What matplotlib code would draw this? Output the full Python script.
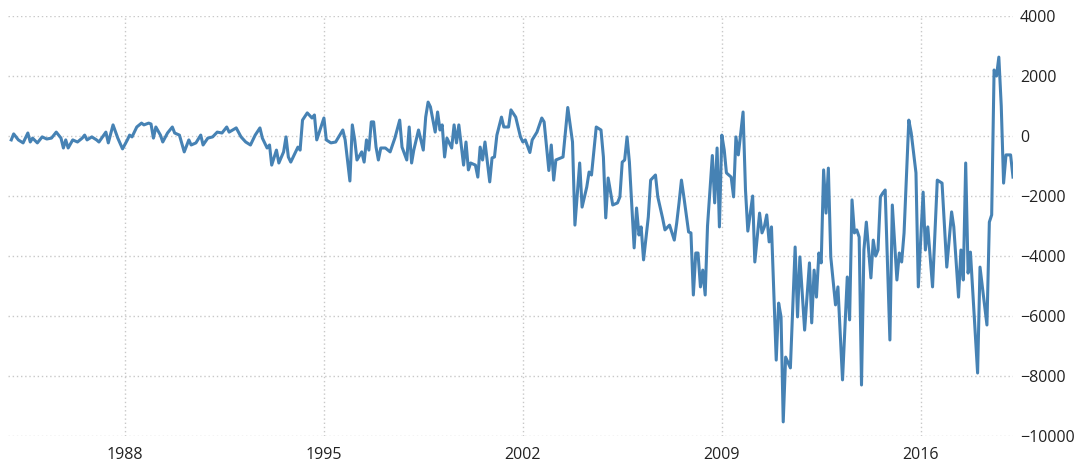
import matplotlib
matplotlib.use('Agg')
import matplotlib.pyplot as plt
import matplotlib.dates as mdates
import pandas as pd

months = [
    '1984-01', '1984-02', '1984-04', '1984-06', '1984-08', '1984-09', '1984-10', '1984-12',
    '1985-02', '1985-04', '1985-06', '1985-08', '1985-10', '1985-11', '1985-12',
    '1986-01', '1986-03', '1986-05', '1986-07', '1986-08', '1986-09', '1986-11',
    '1987-01', '1987-02', '1987-05', '1987-06', '1987-08', '1987-10', '1987-12',
    '1988-02', '1988-03', '1988-04', '1988-06', '1988-08', '1988-09', '1988-11', '1988-12',
    '1989-01', '1989-02', '1989-04', '1989-05', '1989-07', '1989-09', '1989-10', '1989-12',
    '1990-02', '1990-04', '1990-05', '1990-07', '1990-09', '1990-10', '1990-12',
    '1991-02', '1991-04', '1991-06', '1991-08', '1991-09', '1991-12',
    '1992-02', '1992-04', '1992-06', '1992-08', '1992-10', '1992-11',
    '1993-01', '1993-02', '1993-03', '1993-05', '1993-06', '1993-08', '1993-09', '1993-10', '1993-11',
    '1994-02', '1994-03', '1994-04', '1994-06', '1994-08', '1994-09', '1994-10',
    '1995-01', '1995-02', '1995-04', '1995-06', '1995-09', '1995-10', '1995-12',
    '1996-01', '1996-02', '1996-03', '1996-05', '1996-06', '1996-07', '1996-08', '1996-09',
    '1996-10', '1996-11', '1996-12',
    '1997-01', '1997-03', '1997-05', '1997-07', '1997-09', '1997-10', '1997-12',
    '1998-01', '1998-02', '1998-03', '1998-05', '1998-07', '1998-08', '1998-09', '1998-10', '1998-12',
    '1999-01', '1999-02', '1999-03', '1999-04', '1999-05', '1999-07', '1999-08', '1999-09',
    '1999-10', '1999-12',
    '2000-01', '2000-02', '2000-03', '2000-05', '2000-06', '2000-07', '2000-08', '2000-09',
    '2000-11', '2000-12',
    '2001-01', '2001-02', '2001-04', '2001-05', '2001-07', '2001-08', '2001-10', '2001-12',
    '2002-01', '2002-02', '2002-04', '2002-05', '2002-07', '2002-09', '2002-10', '2002-12',
    '2003-01', '2003-02', '2003-03', '2003-06', '2003-08', '2003-10', '2003-11',
    '2004-01', '2004-02', '2004-04', '2004-05', '2004-06', '2004-08', '2004-10', '2004-11', '2004-12',
    '2005-01', '2005-03', '2005-05', '2005-06', '2005-07', '2005-08', '2005-09', '2005-10', '2005-12',
    '2006-01', '2006-02', '2006-03', '2006-04', '2006-06', '2006-07', '2006-09', '2006-10', '2006-12',
    '2007-01', '2007-03', '2007-05', '2007-06', '2007-07', '2007-08', '2007-09', '2007-11', '2007-12',
    '2008-01', '2008-02', '2008-03', '2008-04', '2008-05', '2008-06', '2008-07', '2008-09',
    '2008-10', '2008-11', '2008-12',
    '2009-01', '2009-02', '2009-03', '2009-05', '2009-06', '2009-07', '2009-08', '2009-10',
    '2009-11', '2009-12',
    '2010-02', '2010-03', '2010-05', '2010-06', '2010-07', '2010-08', '2010-09', '2010-10', '2010-12',
    '2011-01', '2011-02', '2011-03', '2011-04', '2011-06', '2011-08', '2011-09', '2011-10', '2011-12',
    '2012-02', '2012-03', '2012-04', '2012-05', '2012-06', '2012-07', '2012-08', '2012-09',
    '2012-10', '2012-11',
    '2013-01', '2013-02', '2013-04', '2013-06', '2013-07', '2013-08', '2013-09', '2013-10',
    '2013-11', '2013-12',
    '2014-01', '2014-02', '2014-04', '2014-05', '2014-06', '2014-07', '2014-08', '2014-09',
    '2014-10', '2014-12',
    '2015-01', '2015-03', '2015-04', '2015-05', '2015-06', '2015-08', '2015-09', '2015-11', '2015-12',
    '2016-02', '2016-03', '2016-04', '2016-06', '2016-08', '2016-10', '2016-12',
    '2017-02', '2017-03', '2017-05', '2017-06', '2017-07', '2017-08', '2017-09', '2017-10',
    '2018-01', '2018-02', '2018-05', '2018-06', '2018-07', '2018-08', '2018-09', '2018-10',
    '2018-11', '2018-12',
    '2019-01', '2019-03', '2019-04',
]

balance = [
    -130, 70, -130, -230, 100, -200, -70, -230,
    -30, -100, -70, 130, -70, -400, -130,
    -400, -130, -200, -70, 30, -130, -30,
    -130, -200, 130, -230, 370, -70, -430,
    -130, 30, -30, 300, 430, 370, 430, 400,
    -70, 300, 30, -200, 100, 300, 100, 30,
    -530, -130, -300, -230, 30, -300, -70,
    -30, 130, 100, 300, 130, 270,
    -30, -200, -300, 30, 270, -70,
    -400, -300, -970, -470, -900, -530, -30, -700, -870,
    -370, -470, 530, 770, 600, 700, -130,
    600, -130, -230, -200, 200, -130, -1500,
    370, -130, -800, -530, -870, -130, -470, 470,
    470, -370, -800,
    -400, -400, -530, -70, 530, -370, -800,
    300, -900, -470, 200, -470, 630, 1130, 970, 130,
    800, 200, 370, -700, -70, -400, 370, -230,
    370, -970,
    -200, -1130, -900, -970, -1370, -370, -800, -200,
    -1530, -730,
    -700, 30, 630, 300, 300, 870, 630, -30,
    -200, -130, -550, -130, 130, 600, 470, -1150,
    -300, -1470, -800, -700, 950, -200, -2970,
    -900, -2370, -1700, -1200, -1300, 300, 200, -700, -2730,
    -1400, -2300, -2230, -2030, -870, -800, -30, -870, -3730,
    -2400, -3300, -3030, -4130, -2700, -1470, -1300, -2030, -2730,
    -3130, -2970, -3470, -2900, -2230, -1470, -2030, -3200, -3230,
    -5300, -3900, -3900, -5030, -4470, -5300, -3000, -650,
    -2230, -400, -3030,
    30, -470, -1230, -1370, -2030, -30, -630, 800,
    -1800, -3170,
    -2000, -4200, -2570, -3230, -3030, -2630, -3530, -3030, -7470,
    -5570, -6030, -9530, -7370, -7730, -3700, -6030, -4030, -6470,
    -4230, -6230, -4470, -5370, -3900, -4230, -1130, -2570,
    -1070, -4030,
    -5630, -5030, -8130, -4700, -6130, -2130, -3230, -3130,
    -3370, -8300,
    -3800, -2870, -4730, -3470, -4000, -3800, -2030, -1900,
    -1800, -6800,
    -2300, -4800, -3900, -4200, -3230, 530, 100, -1230, -5030,
    -1870, -3800, -3030, -5030, -1470, -1570, -4370,
    -2530, -3030, -5370, -3800, -4800, -900, -4570, -3870,
    -7900, -4370, -6300, -2870, -2630, 2200, 2000, 2630,
    1000, -1570,
    -630, -630, -1370,
]

year_ticks = ['1988', '1995', '2002', '2009', '2016']
value_ticks = [4000, 2000, 0, -2000, -4000, -6000, -8000, -10000]

dates = pd.to_datetime(months, format='%Y-%m')

fig = plt.figure(figsize=(10.76, 4.66), dpi=100)
ax = fig.add_axes([8 / 1076, 30 / 466, (1013 - 8) / 1076, 420 / 466])

ax.plot(dates, balance, color='#4682b4', lw=2.2, solid_joinstyle='round')

ax.set_xlim(pd.Timestamp('1983-11-20'), dates[-1])
ax.set_ylim(-10000, 4000)

ax.set_xticks(pd.to_datetime(year_ticks, format='%Y'))
ax.xaxis.set_major_formatter(mdates.DateFormatter('%Y'))
ax.set_yticks(value_ticks)
ax.yaxis.tick_right()

for s in ax.spines.values():
    s.set_visible(False)
ax.grid(True, color='#c8c8c8', linestyle=(0, (1, 2)), linewidth=1)
ax.tick_params(axis='both', length=0, labelsize=11.5, colors='#222222')
ax.tick_params(axis='x', pad=8)
ax.tick_params(axis='y', pad=5)
for lab in ax.get_xticklabels() + ax.get_yticklabels():
    lab.set_family('Open Sans')

fig.savefig('out.png', dpi=100)
